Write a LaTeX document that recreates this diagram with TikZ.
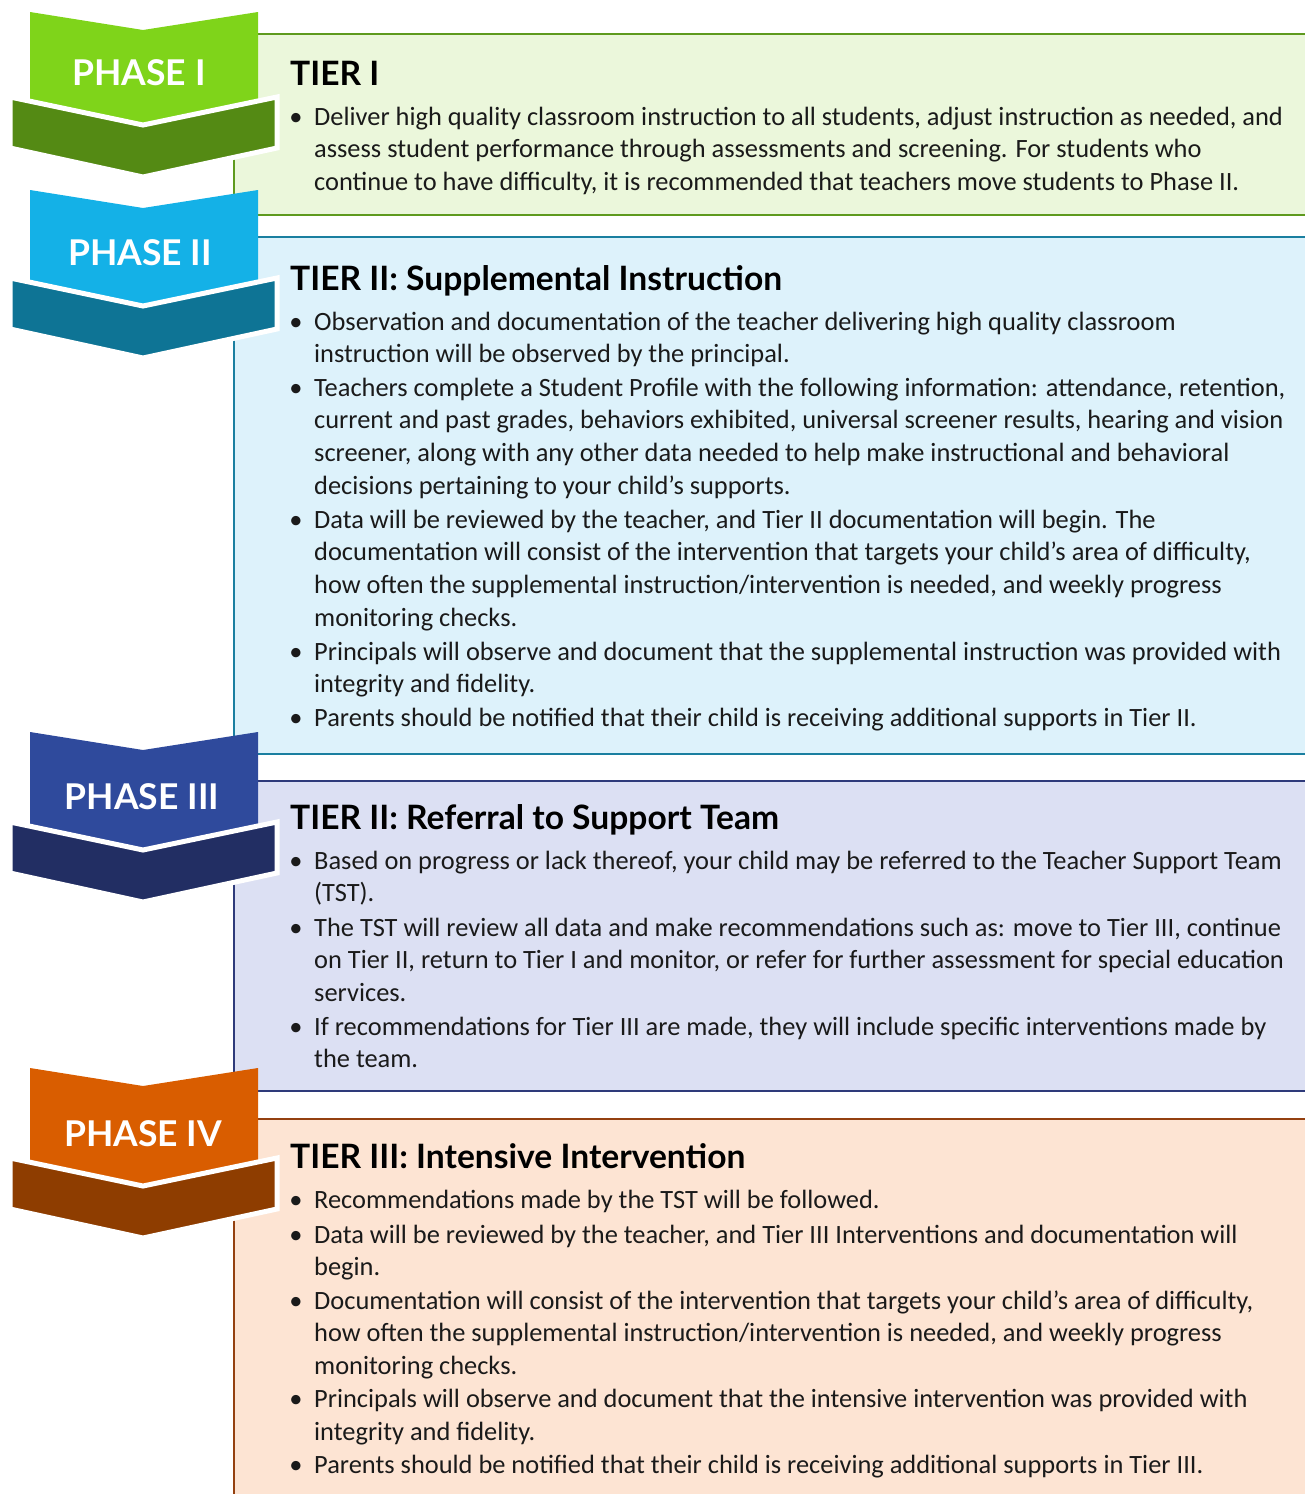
\documentclass[tikz,border=0pt]{standalone}
\usepackage{fontspec}
\setmainfont{Carlito}
\newfontfamily\headfont{Lato}
\definecolor{gLight}{HTML}{7FD41A}
\definecolor{gDark}{HTML}{548A14}
\definecolor{gFill}{HTML}{EBF7DB}
\definecolor{gLine}{HTML}{5E9A1E}
\definecolor{bLight}{HTML}{14B1E7}
\definecolor{bDark}{HTML}{0E7495}
\definecolor{bFill}{HTML}{DDF2FB}
\definecolor{bLine}{HTML}{1A7FA0}
\definecolor{nLight}{HTML}{2F4A9C}
\definecolor{nDark}{HTML}{222E63}
\definecolor{nFill}{HTML}{DCE0F3}
\definecolor{nLine}{HTML}{2E3A7A}
\definecolor{oLight}{HTML}{D95D00}
\definecolor{oDark}{HTML}{8E3D00}
\definecolor{oFill}{HTML}{FDE4D3}
\definecolor{oLine}{HTML}{944010}
\definecolor{txt}{HTML}{1A1A1A}
\tikzset{
  bodytext/.style={anchor=base west, inner sep=0pt, font=\fontsize{26.4}{30}\selectfont, text=txt},
  bulletmark/.style={anchor=base, inner sep=0pt, font=\fontsize{26.4}{30}\selectfont, text=txt},
  headtext/.style={anchor=base west, inner sep=0pt, font=\headfont\bfseries\fontsize{33.6}{38}\selectfont, text=black},
  phasetext/.style={anchor=center, inner sep=0pt, font=\headfont\bfseries\fontsize{35.5}{40}\selectfont, text=white},
  boxline/.style={line width=2.5pt},
}
\newcommand\bul[3]{\node[bodytext] (#1) at (314,#2) {#3};\node[bulletmark] (#1m) at (296,#2) {\textbullet};}
\newcommand\cont[3]{\node[bodytext] (#1) at (314,#2) {#3};}
% #1 light top y, #2 dark top y, #3 light colour, #4 dark colour
\newcommand\chev[4]{%
  \fill[#3] (30,#1) -- (143,#1+18) -- (258,#1) -- (258,#2+20) -- (143,#2+40) -- (30,#2+20) -- cycle;
  \filldraw[fill=#4, draw=white, line width=5pt, line join=miter]
    (10,#2) -- (143,#2+28) -- (277,#2) -- (277,#2+51) -- (143,#2+80) -- (10,#2+51) -- cycle;
}
\begin{document}
\begin{tikzpicture}[x=1pt,y=-1pt]
\useasboundingbox (0,0) rectangle (1305,1494);
% boxes
\fill[gFill] (234,34) rectangle (1310,215);
\draw[boxline, gLine] (1310,34) -- (234,34) -- (234,215) -- (1310,215);
\fill[bFill] (234,237) rectangle (1310,754);
\draw[boxline, bLine] (1310,237) -- (234,237) -- (234,754) -- (1310,754);
\fill[nFill] (234,781) rectangle (1310,1091);
\draw[boxline, nLine] (1310,781) -- (234,781) -- (234,1091) -- (1310,1091);
\fill[oFill] (234,1119) rectangle (1310,1500);
\draw[boxline, oLine] (1310,1119) -- (234,1119) -- (234,1500);
% chevrons
\chev{12}{97}{gLight}{gDark}
\chev{190}{278}{bLight}{bDark}
\chev{732}{822}{nLight}{nDark}
\chev{1068}{1158}{oLight}{oDark}
\node[phasetext] (p1) at (139,73) {PHASE I};
\node[phasetext] (p2) at (140,253) {PHASE II};
\node[phasetext] (p3) at (142,797) {PHASE III};
\node[phasetext] (p4) at (143,1134) {PHASE IV};
% Tier I
\node[headtext] (h1) at (290,85) {TIER I};
\bul{a1}{125}{Deliver high quality classroom instruction to all students, adjust instruction as needed, and}
\cont{a2}{157}{assess student performance through assessments and screening. For students who}
\cont{a3}{190}{continue to have difficulty, it is recommended that teachers move students to Phase II.}
% Tier II
\node[headtext] (h2) at (290,290) {TIER II: Supplemental Instruction};
\bul{b1}{330}{Observation and documentation of the teacher delivering high quality classroom}
\cont{b2}{362}{instruction will be observed by the principal.}
\bul{b3}{396}{Teachers complete a Student Profile with the following information: attendance, retention,}
\cont{b4}{428}{current and past grades, behaviors exhibited, universal screener results, hearing and vision}
\cont{b5}{461}{screener, along with any other data needed to help make instructional and behavioral}
\cont{b6}{494}{decisions pertaining to your child’s supports.}
\bul{b7}{528}{Data will be reviewed by the teacher, and Tier II documentation will begin. The}
\cont{b8}{560}{documentation will consist of the intervention that targets your child’s area of difficulty,}
\cont{b9}{593}{how often the supplemental instruction/intervention is needed, and weekly progress}
\cont{b10}{626}{monitoring checks.}
\bul{b11}{660}{Principals will observe and document that the supplemental instruction was provided with}
\cont{b12}{692}{integrity and fidelity.}
\bul{b13}{726}{Parents should be notified that their child is receiving additional supports in Tier II.}
% Tier II referral
\node[headtext] (h3) at (290,829) {TIER II: Referral to Support Team};
\bul{c1}{869}{Based on progress or lack thereof, your child may be referred to the Teacher Support Team}
\cont{c2}{901}{(TST).}
\bul{c3}{936}{The TST will review all data and make recommendations such as: move to Tier III, continue}
\cont{c4}{968}{on Tier II, return to Tier I and monitor, or refer for further assessment for special education}
\cont{c5}{1001}{services.}
\bul{c6}{1035}{If recommendations for Tier III are made, they will include specific interventions made by}
\cont{c7}{1067}{the team.}
% Tier III
\node[headtext] (h4) at (290,1168) {TIER III: Intensive Intervention};
\bul{d1}{1208}{Recommendations made by the TST will be followed.}
\bul{d2}{1243}{Data will be reviewed by the teacher, and Tier III Interventions and documentation will}
\cont{d3}{1275}{begin.}
\bul{d4}{1309}{Documentation will consist of the intervention that targets your child’s area of difficulty,}
\cont{d5}{1341}{how often the supplemental instruction/intervention is needed, and weekly progress}
\cont{d6}{1374}{monitoring checks.}
\bul{d7}{1407}{Principals will observe and document that the intensive intervention was provided with}
\cont{d8}{1440}{integrity and fidelity.}
\bul{d9}{1473}{Parents should be notified that their child is receiving additional supports in Tier III.}
\end{tikzpicture}
\end{document}
